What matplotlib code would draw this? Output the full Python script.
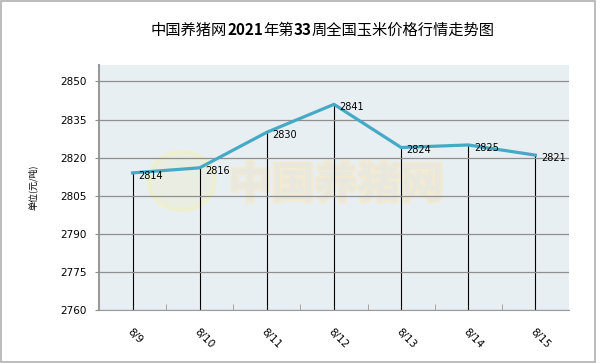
import matplotlib

matplotlib.use("Agg")
import matplotlib.pyplot as plt
import matplotlib.patheffects as pe
from matplotlib.patches import Ellipse, Rectangle

plt.rcParams["font.family"] = ["Noto Sans CJK SC", "DejaVu Sans"]

dates = ["8/9", "8/10", "8/11", "8/12", "8/13", "8/14", "8/15"]
prices = [2814, 2816, 2830, 2841, 2824, 2825, 2821]
yticks = [2760, 2775, 2790, 2805, 2820, 2835, 2850]

title_cn1 = "中国养猪网"
title_num1 = "2021"
title_cn2 = "年第"
title_num2 = "33"
title_cn3 = "周全国玉米价格行情走势图"
ylabel = "单位(元/吨)"

fig = plt.figure(figsize=(6, 3.63), dpi=100)
fig.patches.append(Rectangle((0.002, 0.004), 0.99, 0.993, transform=fig.transFigure,
                             fill=False, edgecolor="#b0b0b0", linewidth=1.2))

ax = fig.add_axes([0.165, 0.146, 0.7833, 0.675])
ax.set_facecolor("#e8eff3")
x = list(range(len(dates)))

# watermark: logo disc + site name
ax.add_patch(Ellipse((0.176, 0.527), 66 / 470, 58 / 245, transform=ax.transAxes,
                     facecolor="#ebede0", edgecolor="#eef0cc", linewidth=3,
                     alpha=0.9, zorder=0.5))
ax.text(0.504, 0.51, "中国养猪网", transform=ax.transAxes, fontsize=31, fontweight="bold",
        color="#e9e8df", ha="center", va="center", zorder=0.5,
        path_effects=[pe.withStroke(linewidth=3, foreground="#f2ead2")])

ax.grid(axis="y", color="#8f8f8f", linewidth=0.9, zorder=0)
ax.set_axisbelow(False)
ax.vlines(x, yticks[0], prices, color="black", linewidth=0.8, zorder=2)
ax.plot(x, prices, color="#46a9c6", linewidth=2.3, zorder=3)
for xi, p in zip(x, prices):
    ax.annotate(str(p), (xi, p), xytext=(4, -2), textcoords="offset points",
                fontsize=7, ha="left", va="center", family="DejaVu Sans", zorder=4)

ax.set_xlim(-0.5, len(dates) - 0.5)
ax.set_ylim(2760, 2856.5)
ax.set_yticks(yticks)
ax.set_yticklabels([str(v) for v in yticks], family="DejaVu Sans", fontsize=7.5)
ax.set_xticks(x)
ax.set_xticklabels(dates, rotation=-45, ha="left", va="top", family="DejaVu Sans",
                   fontsize=7.5, rotation_mode="anchor")
ax.set_xticks([i + 0.5 for i in x[:-1]], minor=True)
ax.tick_params(axis="x", which="major", length=0, pad=12)
ax.tick_params(axis="x", which="minor", direction="in", length=4, color="#999999")
ax.tick_params(axis="y", length=3, color="#8f8f8f", pad=6)

for side in ("top", "right"):
    ax.spines[side].set_visible(False)
ax.spines["left"].set_color("#9a9a9a")
ax.spines["left"].set_linewidth(1.5)
ax.spines["bottom"].set_color("#9a9a9a")

ax.set_ylabel(ylabel, fontsize=6.5, labelpad=16)

# title: Chinese in regular weight, numbers in bold, laid out left to right
parts = [(title_cn1, "normal"), (title_num1, "bold"), (title_cn2, "normal"),
         (title_num2, "bold"), (title_cn3, "normal")]
fig.canvas.draw()
renderer = fig.canvas.get_renderer()
texts = []
for s, w in parts:
    t = fig.text(0, 0.917, s, ha="left", va="center", fontsize=11, fontweight=w)
    texts.append(t)
widths = [t.get_window_extent(renderer).width for t in texts]
total = sum(widths)
x0 = 0.538 * fig.bbox.width - total / 2
for t, w in zip(texts, widths):
    t.set_x(x0 / fig.bbox.width)
    x0 += w

fig.savefig("out.png", dpi=100)
